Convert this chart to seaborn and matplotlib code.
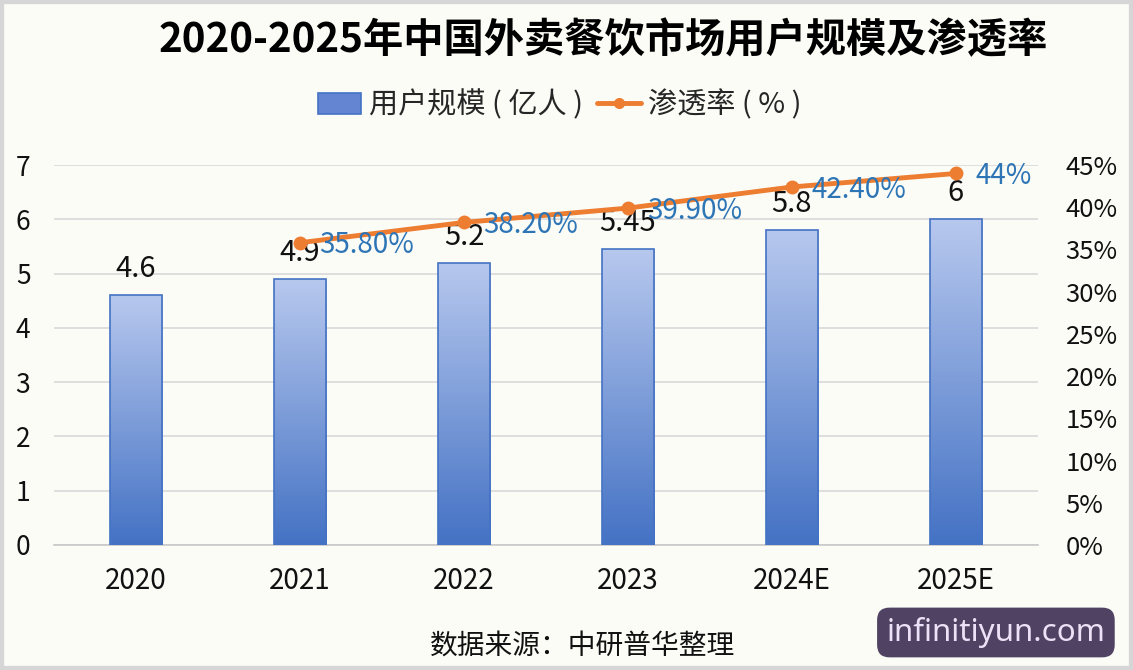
import numpy as np
import pandas as pd
import matplotlib
matplotlib.use("Agg")
import matplotlib.pyplot as plt
import seaborn as sns
from matplotlib.colors import LinearSegmentedColormap
from matplotlib.lines import Line2D
from matplotlib.patches import Patch, Rectangle

# 数据
years = ["2020", "2021", "2022", "2023", "2024E", "2025E"]
users = [4.6, 4.9, 5.2, 5.45, 5.8, 6.0]
rate_years = ["2021", "2022", "2023", "2024E", "2025E"]
rates = [35.8, 38.2, 39.9, 42.4, 44.0]
rate_labels = ["35.80%", "38.20%", "39.90%", "42.40%", "44%"]

sns.set_style("white")
plt.rcParams['font.family'] = ['Noto Sans CJK SC', 'DejaVu Sans']

bg = "#fcfcf7"
bar_dark = "#4472c4"
bar_light = "#b7c8ee"
orange = "#ed7d31"
blue_txt = "#2e75b6"

fig = plt.figure(figsize=(11.33, 6.7), dpi=100, facecolor=bg)
ax = fig.add_axes([0.0477, 0.1866, 0.8683, 0.5671])
ax.set_facecolor(bg)

df = pd.DataFrame({"year": years, "users": users})
sns.barplot(data=df, x="year", y="users", ax=ax, width=0.32,
            color=bar_dark, edgecolor=bar_dark, linewidth=1.2, zorder=3)

# 渐变填充
cmap = LinearSegmentedColormap.from_list("grad", [bar_dark, bar_light])
grad = np.linspace(0, 1, 256).reshape(-1, 1)
for p in list(ax.patches):
    x0, y0 = p.get_x(), p.get_y()
    w, h = p.get_width(), p.get_height()
    im = ax.imshow(grad, extent=[x0, x0 + w, y0, y0 + h], origin="lower",
                   aspect="auto", cmap=cmap, zorder=3)
    im.set_clip_path(p)
    p.set_facecolor("none")
    p.set_zorder(4)

ax.set_xlim(-0.5, len(years) - 0.5)
ax.set_ylim(0, 7)
ax.set_yticks(range(0, 8))
ax.grid(axis="y", color="#d9d9d9", linewidth=1.2, zorder=0)
ax.set_xlabel("")
ax.set_ylabel("")
for s in ["top", "right", "left"]:
    ax.spines[s].set_visible(False)
ax.spines["bottom"].set_color("#c8c8c8")
ax.spines["bottom"].set_linewidth(1.2)
ax.tick_params(axis="x", length=0, labelsize=20, pad=15, colors="#111111")
ax.tick_params(axis="y", length=0, labelsize=19, pad=17, colors="#111111")
ax.set_xticks(np.arange(-0.5, len(years)), minor=True)
ax.tick_params(axis="x", which="minor", length=10, color="#c8c8c8", width=1.2)

for i, v in enumerate(users):
    ax.annotate(f"{v:g}", (i, v), xytext=(0, 8), textcoords="offset points",
                ha="center", va="bottom", fontsize=21, color="#111111", zorder=6)

# 渗透率
ax2 = ax.twinx()
rx = [years.index(y) for y in rate_years]
sns.lineplot(x=rx, y=rates, ax=ax2, color=orange, linewidth=3.5,
             marker="o", markersize=10, markeredgewidth=0, zorder=5)
ax2.set_ylim(0, 45)
ax2.set_yticks(range(0, 50, 5))
ax2.set_yticklabels([f"{t}%" for t in range(0, 50, 5)])
ax2.tick_params(axis="y", length=0, labelsize=18.5, pad=20, colors="#111111")
for s in ax2.spines.values():
    s.set_visible(False)
for x, r, lab in zip(rx, rates, rate_labels):
    ax2.annotate(lab, (x, r), xytext=(14, -2), textcoords="offset points",
                 ha="left", va="center", fontsize=20, color=blue_txt, zorder=6)

fig.text(0.532, 0.94, "2020-2025年中国外卖餐饮市场用户规模及渗透率",
         ha="center", va="center", fontsize=29, fontweight="bold", color="black")

handles = [Patch(facecolor="#6385d2", edgecolor=bar_dark, linewidth=1.2),
           Line2D([], [], color=orange, linewidth=3.5, marker="o", markersize=7)]
fig.legend(handles, ["用户规模 ( 亿人 )", "渗透率 ( % )"], loc="center",
           bbox_to_anchor=(0.494, 0.843), ncol=2, frameon=False, fontsize=21,
           handlelength=1.5, handleheight=0.75, handletextpad=0.25,
           columnspacing=0.5)

fig.text(0.514, 0.037, "数据来源：中研普华整理", ha="center", va="center",
         fontsize=20, color="#111111")
fig.text(0.879, 0.056, "infinitiyun.com", ha="center", va="center",
         fontsize=22.5, color="#ece2f7", family=["Noto Sans", "DejaVu Sans"],
         bbox=dict(boxstyle="round,pad=0.3,rounding_size=0.4",
                   facecolor="#4f4262", edgecolor="none"))

fig.patches.append(Rectangle((0, 0), 1, 1, transform=fig.transFigure,
                             fill=False, edgecolor="#d6d6d6", linewidth=6))

fig.savefig("out.png", dpi=100, facecolor=bg)
